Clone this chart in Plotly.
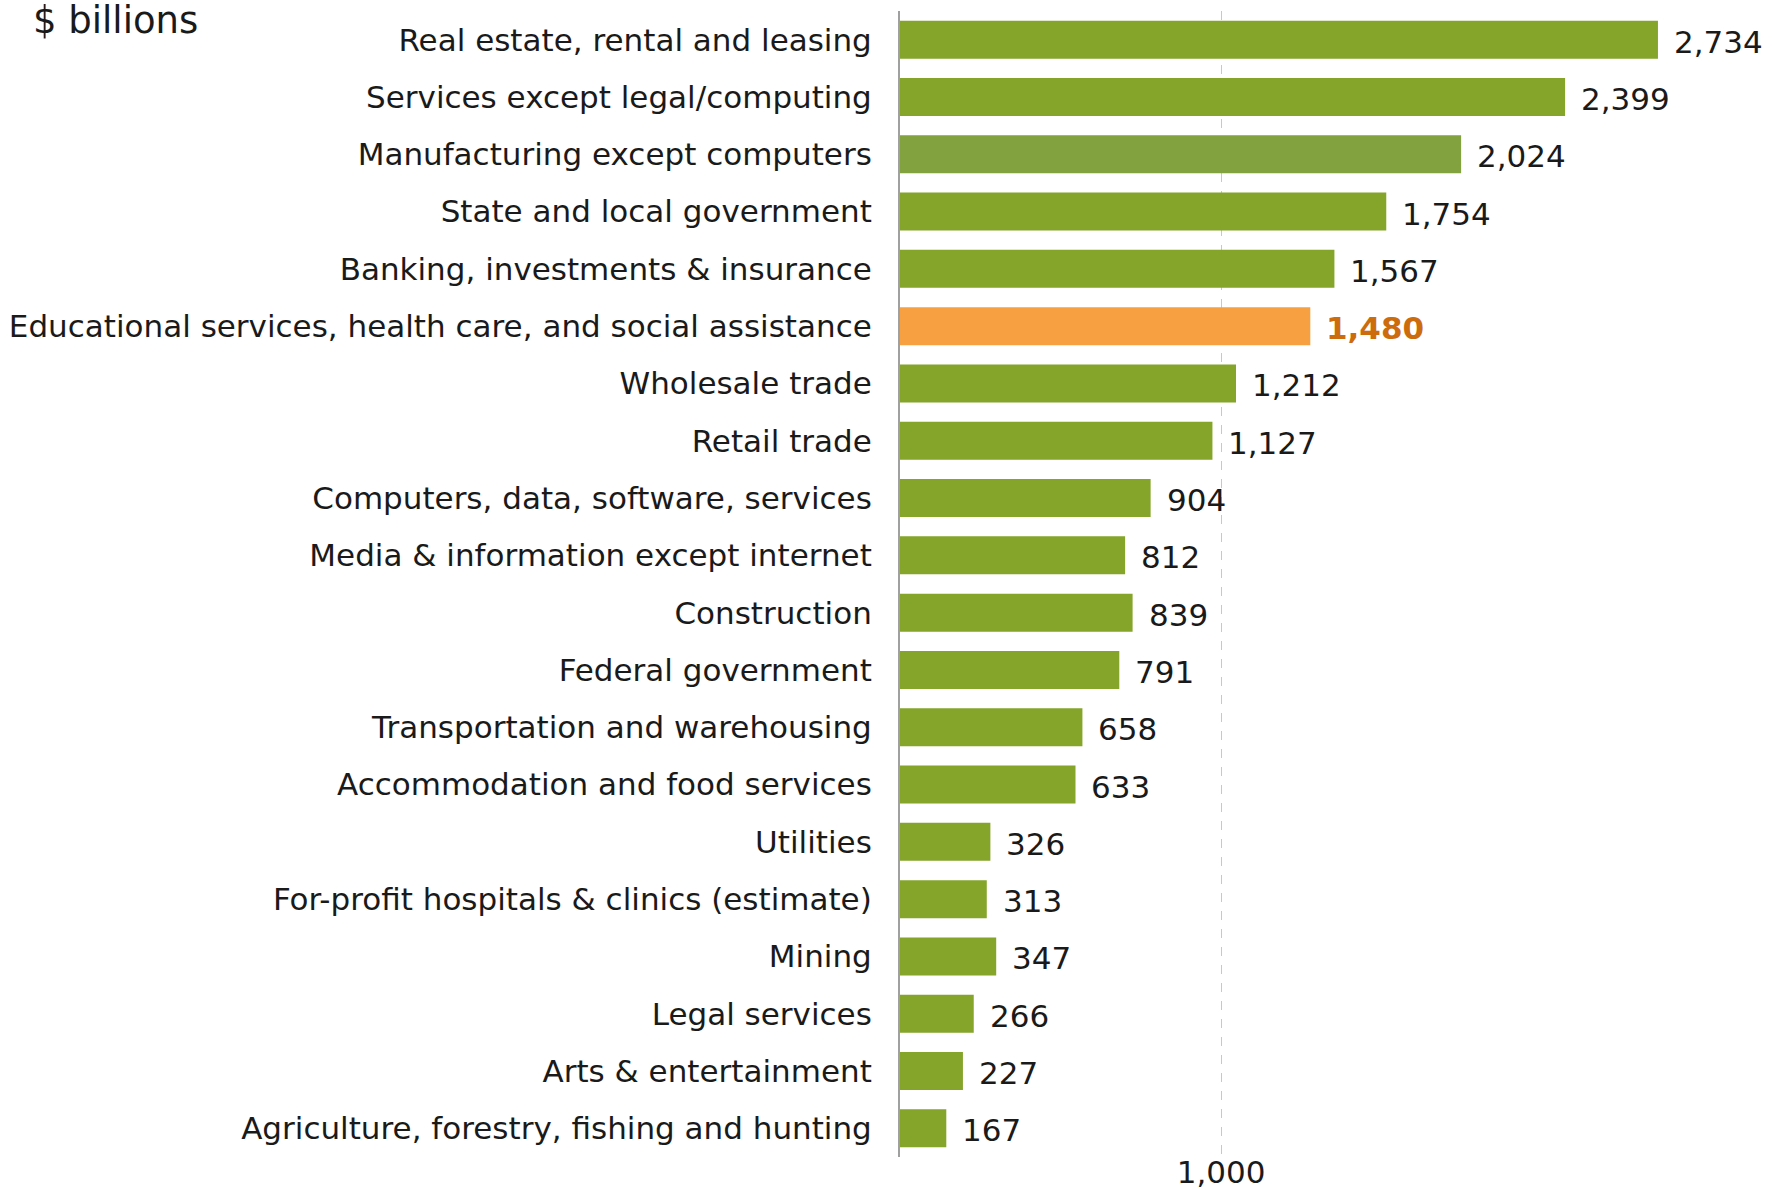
import plotly.graph_objects as go

# Gross output by industry, $ billions
industries = [
    "Real estate, rental and leasing",
    "Services except legal/computing",
    "Manufacturing except computers",
    "State and local government",
    "Banking, investments & insurance",
    "Educational services, health care, and social assistance",
    "Wholesale trade",
    "Retail trade",
    "Computers, data, software, services",
    "Media & information except internet",
    "Construction",
    "Federal government",
    "Transportation and warehousing",
    "Accommodation and food services",
    "Utilities",
    "For-profit hospitals & clinics (estimate)",
    "Mining",
    "Legal services",
    "Arts & entertainment",
    "Agriculture, forestry, fishing and hunting",
]
values = [2734, 2399, 2024, 1754, 1567, 1480, 1212, 1127, 904, 812,
          839, 791, 658, 633, 326, 313, 347, 266, 227, 167]

# Reference gridline and its label on the value axis
grid_tick_vals = [1158]
grid_tick_text = ["1,000"]

GREEN = "#84A42A"
GREEN_MUTED = "#82A23F"
ORANGE = "#F7A041"
ORANGE_TEXT = "#CD6C0C"
HIGHLIGHT = "Educational services, health care, and social assistance"
MUTED = "Manufacturing except computers"

FONT = "DejaVu Sans"
TEXT_COLOR = "#1A1A1A"

colors = []
for name in industries:
    if name == HIGHLIGHT:
        colors.append(ORANGE)
    elif name == MUTED:
        colors.append(GREEN_MUTED)
    else:
        colors.append(GREEN)

fig = go.Figure(
    go.Bar(
        x=values,
        y=industries,
        orientation="h",
        marker=dict(color=colors, line=dict(width=0)),
        hoverinfo="x+y",
    )
)

# Value labels to the right of each bar
annotations = []
for name, v in zip(industries, values):
    hl = name == HIGHLIGHT
    annotations.append(dict(
        x=v, y=name, xref="x", yref="y",
        text=f"<b>{v:,}</b>" if hl else f"{v:,}",
        showarrow=False, xanchor="left", yanchor="middle",
        xshift=14, yshift=-2,
        font=dict(family=FONT, size=31, color=ORANGE_TEXT if hl else TEXT_COLOR),
    ))

# Unit caption in the top-left corner
annotations.append(dict(
    x=0, y=1, xref="paper", yref="paper",
    xanchor="left", yanchor="bottom",
    xshift=-869, yshift=-33,
    text="$ billions", showarrow=False,
    font=dict(family=FONT, size=37, color=TEXT_COLOR),
))

fig.update_layout(
    width=1773, height=1190,
    margin=dict(l=900, r=0, t=11, b=26),
    paper_bgcolor="white", plot_bgcolor="white",
    bargap=0.337,
    showlegend=False,
    annotations=annotations,
    font=dict(family=FONT, color=TEXT_COLOR),
)

fig.update_xaxes(
    range=[0, 3149],
    tickvals=grid_tick_vals, ticktext=grid_tick_text,
    showgrid=True, gridcolor="#C8C8C8", gridwidth=1, griddash="dash",
    zeroline=False, showline=False, ticks="",
    layer="above traces",
    ticklabelstandoff=-6,
    tickfont=dict(family=FONT, size=31, color=TEXT_COLOR),
    fixedrange=True,
)

fig.update_yaxes(
    autorange="reversed",
    showline=True, linecolor="#A0A0A0", linewidth=2,
    showgrid=False, ticks="",
    ticklabelstandoff=20,
    tickfont=dict(family=FONT, size=31, color=TEXT_COLOR),
    fixedrange=True,
)

fig.write_html("out.html")
